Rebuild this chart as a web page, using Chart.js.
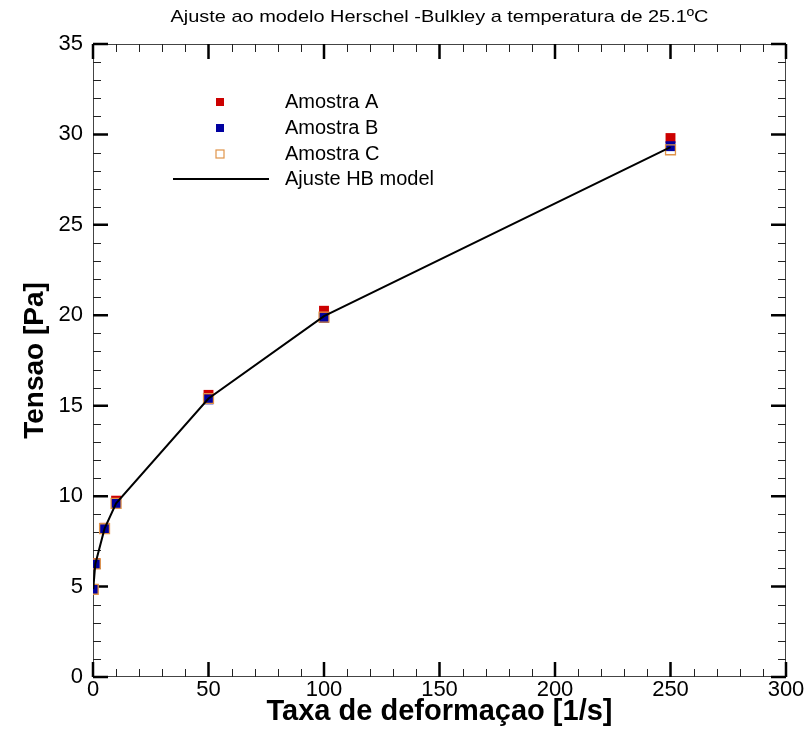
<!DOCTYPE html>
<html>
<head>
<meta charset="utf-8">
<script src="https://cdn.jsdelivr.net/npm/chart.js@4.4.0/dist/chart.umd.min.js"></script>
<style>
  html, body { margin: 0; padding: 0; background: #fff; }
  #wrap { width: 811px; height: 738px; }
</style>
</head>
<body>
<div id="wrap"><canvas id="hbChart" width="811" height="738"></canvas></div>
<script>
// dados
const taxa = [0.1, 1, 5, 10, 50, 100, 250];
const amostraA = [4.85, 6.3, 8.25, 9.75, 15.6, 20.25, 29.8];
const amostraB = [4.85, 6.25, 8.2, 9.6, 15.35, 19.85, 29.35];
const amostraC = [4.85, 6.25, 8.2, 9.6, 15.4, 19.9, 29.15];
const ajusteHB = [4.85, 6.25, 8.2, 9.6, 15.4, 19.95, 29.3];
const xTicks = [0, 50, 100, 150, 200, 250, 300];
const yTicks = [0, 5, 10, 15, 20, 25, 30, 35];
const legendLabels = ["Amostra A", "Amostra B", "Amostra C", "Ajuste HB model"];
const titulo = "Ajuste ao modelo Herschel -Bulkley a temperatura de 25.1ºC";

const pts = vals => taxa.map((t, i) => ({ x: t, y: vals[i] }));

const corA = "#cc0000";
const corB = "#0000a0";
const corC = "#e0944a";

// moldura + ticks para dentro nos quatro lados
const frameTicks = {
  id: "frameTicks",
  beforeDatasetsDraw(chart) {
    const { ctx, chartArea: a, scales: { x, y } } = chart;
    ctx.save();
    ctx.strokeStyle = "#444";
    ctx.lineWidth = 1;
    ctx.strokeRect(a.left + 0.5, a.top + 0.5, a.right - a.left - 1, a.bottom - a.top - 1);

    const minorLen = 8, majorLen = 15;
    ctx.strokeStyle = "#222";
    ctx.lineWidth = 1;
    ctx.beginPath();
    for (let v = 0; v <= 300; v += 10) {
      if (xTicks.includes(v)) continue;
      const px = Math.round(x.getPixelForValue(v)) + 0.5;
      ctx.moveTo(px, a.bottom); ctx.lineTo(px, a.bottom - minorLen);
      ctx.moveTo(px, a.top); ctx.lineTo(px, a.top + minorLen);
    }
    for (let v = 0; v <= 35; v += 1) {
      if (yTicks.includes(v)) continue;
      const py = Math.round(y.getPixelForValue(v)) + 0.5;
      ctx.moveTo(a.left, py); ctx.lineTo(a.left + minorLen, py);
      ctx.moveTo(a.right, py); ctx.lineTo(a.right - minorLen, py);
    }
    ctx.stroke();

    ctx.strokeStyle = "#000";
    ctx.lineWidth = 2.5;
    ctx.beginPath();
    xTicks.forEach(v => {
      const px = x.getPixelForValue(v);
      ctx.moveTo(px, a.bottom); ctx.lineTo(px, a.bottom - majorLen);
      ctx.moveTo(px, a.top); ctx.lineTo(px, a.top + majorLen);
    });
    yTicks.forEach(v => {
      const py = y.getPixelForValue(v);
      ctx.moveTo(a.left, py); ctx.lineTo(a.left + majorLen, py);
      ctx.moveTo(a.right, py); ctx.lineTo(a.right - majorLen, py);
    });
    ctx.stroke();
    ctx.restore();
  }
};

// legenda e titulo desenhados a mao
const legendaTitulo = {
  id: "legendaTitulo",
  afterDraw(chart) {
    const { ctx, chartArea: a } = chart;
    ctx.save();

    // titulo
    ctx.font = "17px 'Liberation Sans', Arial, sans-serif";
    ctx.fillStyle = "#000";
    ctx.textBaseline = "middle";
    ctx.textAlign = "center";
    const w = ctx.measureText(titulo).width;
    const sx = 538 / w;
    ctx.translate((a.left + a.right) / 2, 17);
    ctx.scale(sx, 1);
    ctx.fillText(titulo, 0, 0);
    ctx.setTransform(1, 0, 0, 1, 0, 0);

    // legenda
    const mx = a.left + 127, tx = a.left + 192;
    const rows = [a.top + 58, a.top + 84, a.top + 110, a.top + 135];
    const s = 8;
    ctx.fillStyle = corA;
    ctx.fillRect(mx - s / 2, rows[0] - s / 2, s, s);
    ctx.fillStyle = corB;
    ctx.fillRect(mx - s / 2, rows[1] - s / 2, s, s);
    ctx.strokeStyle = corC;
    ctx.lineWidth = 1.2;
    ctx.strokeRect(mx - s / 2, rows[2] - s / 2, s, s);
    ctx.strokeStyle = "#000";
    ctx.lineWidth = 2;
    ctx.beginPath();
    ctx.moveTo(a.left + 80, rows[3]);
    ctx.lineTo(a.left + 176, rows[3]);
    ctx.stroke();

    ctx.font = "20px 'Liberation Sans', Arial, sans-serif";
    ctx.fillStyle = "#000";
    ctx.textAlign = "left";
    ctx.textBaseline = "middle";
    legendLabels.forEach((lbl, i) => ctx.fillText(lbl, tx, rows[i]));
    ctx.restore();
  }
};

new Chart(document.getElementById("hbChart").getContext("2d"), {
  type: "scatter",
  data: {
    datasets: [
      {
        label: "Ajuste HB model",
        data: pts(ajusteHB),
        showLine: true,
        borderColor: "#000",
        borderWidth: 2,
        pointRadius: 0,
        tension: 0
      },
      {
        label: "Amostra C",
        data: pts(amostraC),
        pointStyle: "rect",
        pointRadius: 7,
        backgroundColor: "rgba(0,0,0,0)",
        borderColor: corC,
        pointBorderWidth: 1.3
      },
      {
        label: "Amostra B",
        data: pts(amostraB),
        pointStyle: "rect",
        pointRadius: 7,
        backgroundColor: corB,
        borderColor: corB,
        pointBorderWidth: 0
      },
      {
        label: "Amostra A",
        data: pts(amostraA),
        pointStyle: "rect",
        pointRadius: 7,
        backgroundColor: corA,
        borderColor: corA,
        pointBorderWidth: 0
      }
    ]
  },
  options: {
    responsive: false,
    animation: false,
    layout: { padding: { top: 44, right: 25, left: 0, bottom: 0 } },
    plugins: {
      legend: { display: false },
      title: { display: false },
      tooltip: { enabled: false }
    },
    scales: {
      x: {
        type: "linear",
        min: 0,
        max: 300,
        afterBuildTicks: s => { s.ticks = xTicks.map(v => ({ value: v })); },
        afterFit: s => { s.height = 61; },
        grid: { display: false },
        border: { display: false },
        ticks: {
          padding: -8,
          color: "#000",
          maxRotation: 0,
          font: { family: "'Liberation Sans', Arial", size: 22 }
        },
        title: {
          display: true,
          text: "Taxa de deformaçao [1/s]",
          color: "#000",
          padding: { top: 9, bottom: 9 },
          font: { family: "'Liberation Sans', Arial", size: 29, weight: "bold" }
        }
      },
      y: {
        type: "linear",
        min: 0,
        max: 35,
        afterBuildTicks: s => { s.ticks = yTicks.map(v => ({ value: v })); },
        afterFit: s => { s.width = 93; },
        grid: { display: false },
        border: { display: false },
        ticks: {
          padding: 2,
          color: "#000",
          font: { family: "'Liberation Sans', Arial", size: 22 }
        },
        title: {
          display: true,
          text: "Tensao [Pa]",
          color: "#000",
          padding: { top: 18, bottom: 18 },
          font: { family: "'Liberation Sans', Arial", size: 28, weight: "bold" }
        }
      }
    }
  },
  plugins: [frameTicks, legendaTitulo]
});
</script>
</body>
</html>
